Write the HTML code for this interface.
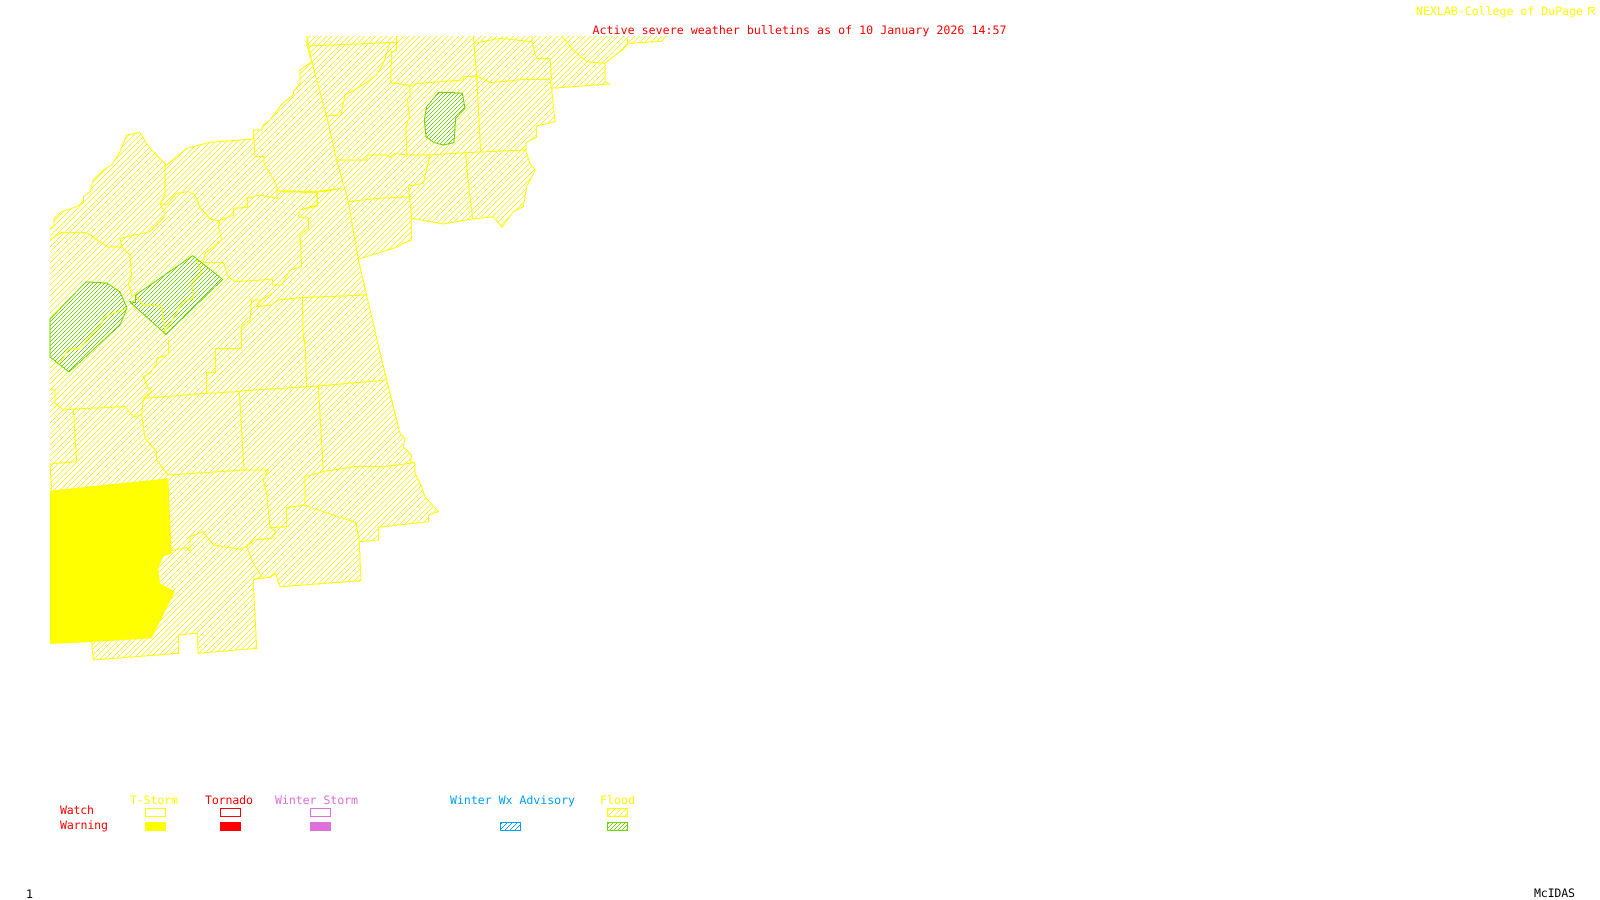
<!DOCTYPE html>
<html><head><meta charset="utf-8"><style>
html,body{margin:0;padding:0;background:#fff;width:1600px;height:900px;overflow:hidden}
svg{display:block}
text{font-family:"DejaVu Sans Mono","Liberation Mono",monospace;font-size:11.6px;text-rendering:geometricPrecision}
.o{fill:none;stroke:#ffff00;stroke-width:1;shape-rendering:crispEdges}
.z{fill:none;stroke:#ffff00;stroke-width:3;shape-rendering:crispEdges}
.g{fill:none;stroke:#70d800;stroke-width:3;shape-rendering:crispEdges}
</style></head><body>
<svg width="1600" height="900" viewBox="0 0 1600 900" xmlns="http://www.w3.org/2000/svg">
<defs>
<pattern id="hy" patternUnits="userSpaceOnUse" width="11" height="11"><g fill="#ffff00" shape-rendering="crispEdges"><rect x="10" y="0" width="1" height="1"/><rect x="9" y="1" width="1" height="1"/><rect x="8" y="2" width="1" height="1"/><rect x="7" y="3" width="1" height="1"/><rect x="6" y="4" width="1" height="1"/><rect x="5" y="5" width="1" height="1"/><rect x="4" y="6" width="1" height="1"/><rect x="3" y="7" width="1" height="1"/><rect x="2" y="8" width="1" height="1"/><rect x="1" y="9" width="1" height="1"/><rect x="0" y="10" width="1" height="1"/><rect x="4" y="0" width="1" height="1"/><rect x="3" y="1" width="1" height="1"/><rect x="2" y="2" width="1" height="1"/><rect x="1" y="3" width="1" height="1"/><rect x="0" y="4" width="1" height="1"/><rect x="10" y="5" width="1" height="1"/><rect x="9" y="6" width="1" height="1"/><rect x="8" y="7" width="1" height="1"/><rect x="7" y="8" width="1" height="1"/><rect x="6" y="9" width="1" height="1"/><rect x="5" y="10" width="1" height="1"/></g></pattern>
<pattern id="hg" patternUnits="userSpaceOnUse" width="4" height="4"><g fill="#70d800" shape-rendering="crispEdges"><rect x="3" y="0" width="1" height="1"/><rect x="2" y="1" width="1" height="1"/><rect x="1" y="2" width="1" height="1"/><rect x="0" y="3" width="1" height="1"/></g></pattern>
<pattern id="hb" patternUnits="userSpaceOnUse" width="5" height="5"><g fill="#00a0ff" shape-rendering="crispEdges"><rect x="4" y="0" width="1" height="1"/><rect x="3" y="1" width="1" height="1"/><rect x="2" y="2" width="1" height="1"/><rect x="1" y="3" width="1" height="1"/><rect x="0" y="4" width="1" height="1"/></g></pattern>
<clipPath id="outer"><polygon points="306.7,36 666,36 661.7,41.3 638.3,42.7 627.3,44 627.3,38.3 627.3,44 623.3,49.3 613.3,56.7 605,63.3 605,81.7 609.3,84 551.7,88.3 555,121.7 536.7,126 536.7,137.3 526,142.7 526,151.7 530,163.3 535.3,170 526.7,186.7 523.3,206.7 513.3,211.7 502,227.3 493.3,216.7 472.3,219 443.3,224 411.7,218.3 411.7,240 401.7,244 398.3,246.7 358.3,259.3 378.3,345 386.7,380 400,433.3 405,438.3 403.3,446.7 411.7,455 410,461.7 415,463.3 415,473.3 421.7,486.7 425,496.7 438.3,511.7 428.3,515 428.3,521.7 378.3,527.3 378.3,540 359.3,541.7 361,580.7 280,586.7 275,572.7 271,577.3 253.3,579.3 253.3,583.3 256.7,648.3 198.3,653.3 197.3,633.3 178.3,635 178.3,653.3 93.3,660 91.7,641.7 50,644 50,228.3 54,226.7 54,218.3 61.7,211.7 76.7,206.7 83.3,201.7 83.3,196.7 90,191.7 93.3,180 103.3,170 111.7,165 120,151.7 126.7,135 140,132.7 150,148.3 166.7,165 186.7,148.3 210,142.3 253.3,139 253.3,130 261.7,130 263.3,125 270,120 280,106.7 285,101.7 293.3,95 293.3,91.7 300,83.3 300,70 311.7,61.7 307.3,46.7"/></clipPath>
<clipPath id="gr1"><polygon points="50,319 86,282 107,283 120,292 127,308 120,325 69,372 50,357"/></clipPath>
<clipPath id="gr2"><polygon transform="translate(40 120) scale(.33333)" points="458,407 548,478 378,643 272,548 270,545 287,548 287,525"/></clipPath>
<clipPath id="gr3"><polygon transform="translate(280 20) scale(.33333)" points="475,218 510,217 547,220 555,265 527,295 522,368 490,375 462,368 438,350 433,300 440,260"/></clipPath>
</defs>

<rect x="50" y="36" width="640" height="630" fill="url(#hy)" clip-path="url(#outer)"/>

<polyline class="o" points="627.3,38.3 627.3,44 623.3,49.3 613.3,56.7 605,63.3 605,81.7 609.3,84 551.7,88.3 555,121.7 536.7,126 536.7,137.3 526,142.7 526,151.7 530,163.3 535.3,170 526.7,186.7 523.3,206.7 513.3,211.7 502,227.3 493.3,216.7 472.3,219 443.3,224 411.7,218.3 411.7,240 401.7,244 398.3,246.7 358.3,259.3 378.3,345 386.7,380 400,433.3 405,438.3 403.3,446.7 411.7,455 410,461.7 415,463.3 415,473.3 421.7,486.7 425,496.7 438.3,511.7 428.3,515 428.3,521.7 378.3,527.3 378.3,540 359.3,541.7 361,580.7 280,586.7 275,572.7 271,577.3 253.3,579.3 253.3,583.3 256.7,648.3 198.3,653.3 197.3,633.3 178.3,635 178.3,653.3 93.3,660 91.7,641.7"/>
<polyline class="o" points="50,228.3 54,226.7 54,218.3 61.7,211.7 76.7,206.7 83.3,201.7 83.3,196.7 90,191.7 93.3,180 103.3,170 111.7,165 120,151.7 126.7,135 140,132.7 150,148.3 166.7,165 186.7,148.3 210,142.3 253.3,139 253.3,130 261.7,130 263.3,125 270,120 280,106.7 285,101.7 293.3,95 293.3,91.7 300,83.3 300,70 311.7,61.7 307.3,46.7 306.7,36"/>
<polyline class="o" points="627.3,44 638.3,42.7 661.7,41.3 666,36"/>

<g transform="translate(280 20) scale(.33333)">
<path class="z" d="M85,78L320,68L350,68L350,48M330,68L310,130L290,165L240,200L195,225L183,285L135,288M350,68L350,92L335,95L332,188L385,195L390,198L415,190L550,180L552,170L590,168L632,188L715,180L725,178L810,178L815,205M810,115L815,178M580,48L590,168L602,395M582,70L660,55L755,65L757,48M755,65L770,115L810,115M845,48L880,90L920,125L975,130M390,198L390,230L382,235L388,290L378,320L380,405M170,420L260,420L262,405L320,405L330,412L345,400L380,405L450,405L555,398L738,390M450,405L430,490L385,498L395,595M557,400L565,488L578,597M205,545L295,535L395,530M0,515L110,518L112,555L60,570L55,590L85,595L85,625L60,645L60,675M115,515L135,515L185,505"/>
</g>
<polyline class="o" points="306.7,36 311.7,61.7 326.7,116.7 336.7,160 348.3,201.7 358.3,259.3"/>

<g transform="translate(40 120) scale(.33333)">
<path class="z" d="M640,30L645,110L672,110L672,130L710,195L712,235L660,225L622,235L622,262L580,265L580,285L540,302L512,298L480,262L465,225L445,215L410,220L380,255L360,250L375,225L375,140L380,135M712,213L832,215L832,258L780,270L775,290L805,295L805,325L780,345L785,440L750,450L725,495L697,495L697,478L585,485L565,470L550,428L490,428L495,400L545,360L535,320L540,302M832,215L860,210L905,205M360,250L375,280L370,295L330,335L240,355L245,380L205,382L140,338L65,337L30,360M245,380L270,405L275,470L265,490L275,525L285,525M605,675L605,620L630,600L635,540L665,540L650,560L695,555L715,540L780,533L980,525M695,520L665,540M787,530L790,650L795,675"/>
</g>

<g transform="translate(40 340) scale(.33333)">
<path class="z" d="M385,0L385,45L350,55L350,70L330,100L310,110L325,145L335,155L310,175L305,225L315,295L350,335L350,360L385,405L432,402L612,390L598,155M30,148L45,150L45,190L70,210L100,207L255,200L280,230L305,225M100,207L110,365L30,372L35,450M310,175L500,160L590,155L615,152L835,138L1040,120M500,160L500,97L527,97L527,25L605,25L605,0M795,0L800,140M835,138L850,395L945,380L1030,380L1125,368M850,395L795,410L795,495L740,503L740,560L690,563L680,460L670,420L685,390L612,390M795,495L820,505L948,548L958,605M690,563L710,575L695,595L640,600L620,620L600,628L520,615L490,575L450,590L450,635L440,622L395,632M620,620L640,670L665,710L640,720"/>
<polygon fill="#ffff00" points="30,452 385,415 395,640 370,650 355,685 360,730 405,755 335,895 120,908 30,912"/>
</g>

<rect x="50" y="275" width="85" height="105" fill="#fff" clip-path="url(#gr1)"/>
<rect x="125" y="250" width="100" height="90" fill="#fff" clip-path="url(#gr2)"/>
<rect x="420" y="85" width="50" height="65" fill="#fff" clip-path="url(#gr3)"/>
<rect x="50" y="275" width="85" height="105" fill="url(#hg)" clip-path="url(#gr1)"/>
<rect x="125" y="250" width="100" height="90" fill="url(#hg)" clip-path="url(#gr2)"/>
<rect x="420" y="85" width="50" height="65" fill="url(#hg)" clip-path="url(#gr3)"/>
<polyline class="o" points="127,308 105,317 99,327 87,340 79,349 69,349 60,363"/>
<g transform="translate(40 120) scale(.33333)"><path class="z" d="M285,525L310,555L365,558L375,635L430,545L460,535L455,490L485,460L470,420"/></g>
<polygon points="50,319 86,282 107,283 120,292 127,308 120,325 69,372 50,357" fill="none" stroke="#70d800" shape-rendering="crispEdges"/>
<g transform="translate(40 120) scale(.33333)"><polygon class="g" points="458,407 548,478 378,643 272,548 270,545 287,548 287,525"/></g>
<g transform="translate(280 20) scale(.33333)"><polygon class="g" points="475,218 510,217 547,220 555,265 527,295 522,368 490,375 462,368 438,350 433,300 440,260"/></g>

<text x="592.5" y="34" fill="#ff0000" textLength="414" lengthAdjust="spacing">Active severe weather bulletins as of 10 January 2026 14:57</text>
<text x="1416" y="15" fill="#ffff00" textLength="167" lengthAdjust="spacing">NEXLAB-College of DuPage</text>
<path d="M1595,7.5H1588.5V15M1589,8L1595,15M1592,11.5L1595,8.5" fill="none" stroke="#ffff00" shape-rendering="crispEdges"/>

<text x="130" y="804" fill="#ffff00" textLength="48">T-Storm</text>
<text x="205" y="804" fill="#ff0000" textLength="48">Tornado</text>
<text x="275" y="804" fill="#dd70dd" textLength="83">Winter Storm</text>
<text x="450" y="804" fill="#00a0ff" textLength="125">Winter Wx Advisory</text>
<text x="600" y="804" fill="#ffff00" textLength="35">Flood</text>
<text x="60" y="814" fill="#ff0000" textLength="34">Watch</text>
<text x="60" y="829" fill="#ff0000" textLength="48">Warning</text>

<g shape-rendering="crispEdges">
<rect x="145.5" y="808.5" width="20" height="8" fill="none" stroke="#ffff00"/>
<rect x="145" y="822" width="21" height="9" fill="#ffff00"/>
<rect x="220.5" y="808.5" width="20" height="8" fill="none" stroke="#ff0000"/>
<rect x="220" y="822" width="21" height="9" fill="#ff0000"/>
<rect x="310.5" y="808.5" width="20" height="8" fill="none" stroke="#dd70dd"/>
<rect x="310" y="822" width="21" height="9" fill="#dd70dd"/>
<rect x="500.5" y="822.5" width="20" height="8" fill="url(#hb)" stroke="#00a0ff"/>
<rect x="607.5" y="808.5" width="20" height="8" fill="url(#hy)" stroke="#ffff00"/>
<rect x="607.5" y="822.5" width="20" height="8" fill="url(#hg)" stroke="#70d800"/>
</g>

<text x="26" y="898" fill="#000">1</text>
<text x="1534" y="897" fill="#000" textLength="41">McIDAS</text>
</svg>
</body></html>
